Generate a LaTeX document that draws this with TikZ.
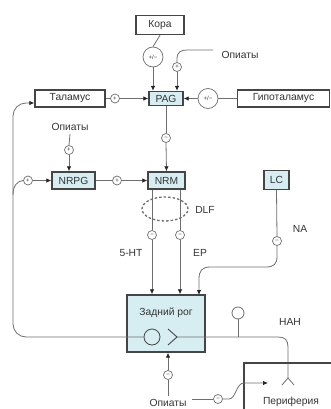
\documentclass[tikz,border=0pt]{standalone}
\usepackage{fontspec}
\setmainfont{Liberation Sans}
\usetikzlibrary{arrows.meta,shapes.geometric}
\definecolor{bfill}{HTML}{D6EEF2}
\definecolor{bdr}{HTML}{454545}
\definecolor{lgray}{HTML}{6E6E6E}
\definecolor{txt}{HTML}{333333}
\begin{document}
\begin{tikzpicture}[x=1pt,y=-1pt,
  font=\fontsize{10.3}{12}\selectfont, text=txt,
  box/.style={draw=bdr,line width=1.4pt,fill=white,inner sep=0pt,minimum height=17pt},
  bbox/.style={box,fill=bfill},
  sc/.style={circle,draw=lgray,line width=0.7pt,fill=white,minimum size=9pt,inner sep=0pt,font=\fontsize{6}{6}\selectfont},
  bc/.style={circle,draw=lgray,line width=0.7pt,fill=white,minimum size=20pt,inner sep=0pt,font=\fontsize{6}{6}\selectfont},
  ln/.style={draw=lgray,line width=0.8pt},
  ar/.style={ln,-{Latex[length=5pt,width=4.5pt,color=black!85]}}]
\useasboundingbox (0,0) rectangle (331,409);
% nodes
\node[box,minimum width=48pt,minimum height=19pt] (kora) at (160,25) {Кора};
\node[bc] (bk) at (153,57) {+/−};
\node[bbox,minimum width=34pt,minimum height=14pt] (pag) at (166,98.5) {PAG};
\node[sc] (sop) at (177,67) {+};
\coordinate (optopend) at (213,50);
\node (optop) at (240,55) {Опиаты};
\node[box,minimum width=70pt] (thal) at (70,98.5) {Таламус};
\node[sc] (sth) at (115,98.5) {+};
\node[bc] (bh) at (208,98.5) {+/−};
\node[box,minimum width=92pt] (hyp) at (283.5,98.5) {Гипоталамус};
\node[sc] (spn) at (166,138) {−};
\node[bbox,minimum width=37pt] (nrm) at (166.5,180.5) {NRM};
\node (opl) at (70,127) {Опиаты};
\node[sc] (sol) at (69,150) {+};
\node[bbox,minimum width=43pt] (nrpg) at (73.5,180.5) {NRPG};
\node[sc] (snl) at (28,180.5) {+};
\node[sc] (snn) at (117,180.5) {+};
\node (dlft) at (205,210) {DLF};
\node[sc] (s5) at (152,235) {−};
\node[sc] (sep) at (180,235) {−};
\node (t5) at (131,253) {5-HT};
\node (tep) at (200,253) {EP};
\node[bbox,minimum width=25pt,minimum height=19pt] (lc) at (276.5,180) {LC};
\node[sc] (sna) at (277,241) {−};
\node (tna) at (300,229) {NA};
\node[bbox,minimum width=78pt,minimum height=57pt] (dh) at (166,323.5) {};
\node (dht) at (166,313) {Задний рог};
\node[circle,draw=bdr,line width=0.8pt,minimum size=16pt,inner sep=0pt] (dhc) at (152,337) {};
\coordinate (gt) at (177,337);
\node[circle,draw=lgray,line width=0.8pt,minimum size=12pt,inner sep=0pt,fill=white] (stick) at (238,313) {};
\node (nah) at (290,322) {НАН};
\node[sc] (sbo) at (168,375) {−};
\node (opb) at (168,403) {Опиаты};
\node (per) at (291,402) {Периферия};
\node[sc] (spo) at (218,399) {−};
\coordinate (pstart) at (192,399);
% connectors
\draw[ln] (kora.south) -- (bk.north);
\draw[ar] (bk.south) -- (bk.south |- pag.north);
\draw[ar] (sop.south) -- (sop.south |- pag.north);
\draw[ln] (sop.north) -- (177,59) .. controls (177,52) and (181,50) .. (187,50) -- (optopend);
\draw[ln] (thal.east) -- (sth.west);
\draw[ar] (sth.east) -- (pag.west);
\draw[ln] (hyp.west) -- (bh.east);
\draw[ar] (bh.west) -- (pag.east);
\draw[ln] (pag.south) -- (spn.north);
\draw[ar] (spn.south) -- (nrm.north);
\draw[ln] (opl.south) -- (sol.north);
\draw[ar] (sol.south) -- (sol.south |- nrpg.north);
\draw[ar] (snl.east) -- (nrpg.west);
\draw[ln] (nrpg.east) -- (snn.west);
\draw[ar] (snn.east) -- (nrm.west);
\draw[ar,rounded corners=13pt] (dhc.west) -- (13,337) -- (13,103) -- (thal.west |- 0,103);
\draw[ln] (snl.west) .. controls (17,181) and (13,186) .. (13,195);
\draw[ln] (s5.north |- nrm.south) -- (s5.north);
\draw[ar] (s5.south) -- (s5.south |- dh.north);
\draw[ln] (sep.north |- nrm.south) -- (sep.north);
\draw[ar] (sep.south) -- (sep.south |- dh.north);
\node[ellipse,draw=lgray,line width=1.3pt,dash pattern=on 2.5pt off 2pt,minimum width=46pt,minimum height=24pt] (dlf) at (165,209) {};
\draw[ln] (lc.south) -- (sna.north);
\draw[ar] (sna.south) -- (277,256) .. controls (277,264) and (274,267) .. (266,267) -- (210,267) .. controls (202,267) and (199,271) .. (199,279) -- (199,295);
\draw[draw=bdr,line width=0.9pt] (168,329) -- (gt) -- (168,345);
\draw[ln] (gt) -- (278,337) .. controls (285,337) and (288,340) .. (288,347) -- (288,378);
\draw[ln] (282,385) -- (288,378) -- (294,385);
\draw[ln] (stick.south) -- (238,337);
\draw[ln] (opb.north) -- (sbo.south);
\draw[ar] (sbo.north) -- (sbo.north |- dh.south);
\draw[draw=bdr,line width=1.4pt] (333,363) -- (244,363) -- (244,411);
\draw[ln] (pstart) -- (spo.west);
\draw[ar] (spo.east) -- (229,399) .. controls (236,399) and (236,383) .. (244,383) -- (268,383);
\end{tikzpicture}
\end{document}
